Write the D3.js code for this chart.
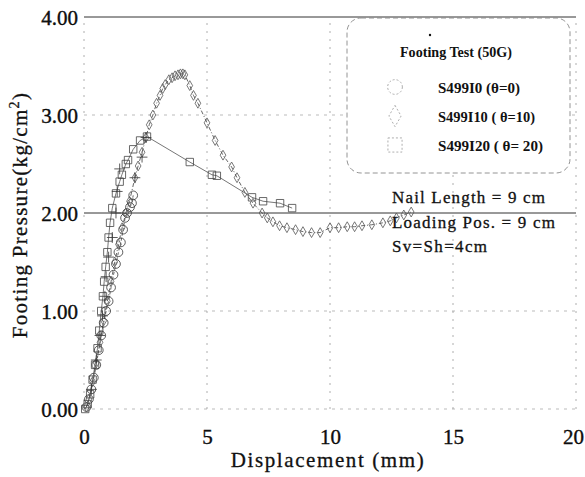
<!DOCTYPE html>
<html>
<head>
<meta charset="utf-8">
<script src="https://cdn.jsdelivr.net/npm/d3@7"></script>
<style>
  body { margin: 0; background: #fff; }
  svg { display: block; }
  text { font-family: "Liberation Serif", "Times New Roman", serif; fill: #111; }
</style>
</head>
<body>
<script>
// values (x = displacement mm, y = kg/cm2)
var xTicks = [0, 5, 10, 15, 20];
var yTicks = [0, 1, 2, 3, 4];

var circleX = [0.1, 0.2, 0.3, 0.4, 0.5, 0.6, 0.7, 0.8, 0.9, 1.0, 1.1, 1.2, 1.3, 1.4, 1.5, 1.59, 1.67, 1.75, 1.87, 1.95, 2.0];
var circleY = [0.02, 0.1, 0.2, 0.32, 0.45, 0.6, 0.75, 0.88, 1.0, 1.1, 1.24, 1.37, 1.48, 1.6, 1.7, 1.83, 1.95, 2.0, 2.06, 2.1, 2.18];

var diamondX = [0.1, 0.2, 0.35, 0.5, 0.65, 0.8, 0.95, 1.1, 1.25, 1.4, 1.55, 1.7, 1.85, 2.07, 2.2, 2.36, 2.52, 2.65, 2.8, 2.95, 3.09, 3.2, 3.3, 3.45, 3.58, 3.7, 3.82, 3.92, 4.02, 4.1, 4.3, 4.45, 4.63, 5.0, 5.33, 5.65, 6.0, 6.22, 6.54, 6.87, 7.24, 7.45, 7.68, 7.95, 8.25, 8.6, 8.9, 9.25, 9.6, 10.0, 10.35, 10.7, 11.0, 11.3, 11.7, 12.15, 12.45, 12.7, 13.0, 13.3];
var diamondY = [0.02, 0.1, 0.28, 0.47, 0.68, 0.9, 1.1, 1.3, 1.5, 1.68, 1.85, 2.0, 2.12, 2.36, 2.48, 2.62, 2.77, 2.9, 3.0, 3.12, 3.2, 3.27, 3.31, 3.36, 3.38, 3.4, 3.41, 3.42, 3.42, 3.41, 3.3, 3.2, 3.12, 2.92, 2.74, 2.59, 2.47, 2.36, 2.21, 2.1, 2.0, 1.95, 1.91, 1.87, 1.85, 1.83, 1.81, 1.8, 1.8, 1.85, 1.85, 1.86, 1.86, 1.87, 1.88, 1.9, 1.92, 1.95, 1.98, 2.01];

var squareX = [0.05, 0.15, 0.25, 0.35, 0.45, 0.55, 0.62, 0.7, 0.77, 0.82, 0.88, 0.95, 1.0, 1.06, 1.15, 1.3, 1.45, 1.54, 1.7, 1.79, 2.0, 2.28, 2.56, 4.3, 5.2, 5.4, 6.83, 7.28, 7.97, 8.46];
var squareY = [0.0, 0.05, 0.15, 0.3, 0.45, 0.62, 0.8, 1.0, 1.15, 1.3, 1.45, 1.6, 1.75, 1.9, 2.05, 2.2, 2.32, 2.39, 2.5, 2.54, 2.65, 2.74, 2.78, 2.52, 2.39, 2.38, 2.16, 2.12, 2.1, 2.05];

// small "+" marks scattered on the rising branches
var plusX = [0.3, 0.5, 0.65, 0.75, 0.85, 0.9, 1.0, 1.15, 1.3, 1.35, 1.45, 2.07, 2.36, 2.52];
var plusY = [0.2, 0.5, 0.75, 0.95, 1.15, 1.35, 1.55, 1.75, 2.0, 2.22, 2.45, 2.36, 2.57, 2.77];

var legendLabels = ["S499I0 (\u03B8=0)", "S499I10 ( \u03B8=10)", "S499I20 ( \u03B8= 20)"];
var notes = ["Nail Length = 9 cm", "Loading Pos. = 9 cm", "Sv=Sh=4cm"];

var width = 585, height = 477;

var xScale = d3.scaleLinear().domain([0, 20]).range([84, 576]);
var yScale = d3.scaleLinear().domain([0, 4]).range([409, 17]);

function pts(xs, ys) {
  return xs.map(function (d, i) { return [d, ys[i]]; });
}

var svg = d3.select("body").append("svg")
  .attr("width", width)
  .attr("height", height);

// grid
svg.append("g").selectAll("line")
  .data(yTicks)
  .enter().append("line")
  .attr("x1", xScale(0)).attr("x2", xScale(20))
  .attr("y1", function (d) { return yScale(d); })
  .attr("y2", function (d) { return yScale(d); })
  .attr("stroke", function (d) { return (d == 2 || d == 4) ? "#333" : "#aaa"; })
  .attr("stroke-width", function (d) { return (d == 2 || d == 4) ? 1 : 0.8; })
  .attr("stroke-dasharray", function (d) { return (d == 2 || d == 4) ? null : "3,5"; });

svg.append("g").selectAll("line")
  .data(xTicks)
  .enter().append("line")
  .attr("y1", yScale(0)).attr("y2", yScale(4))
  .attr("x1", function (d) { return xScale(d); })
  .attr("x2", function (d) { return xScale(d); })
  .attr("stroke", "#999")
  .attr("stroke-width", 0.8)
  .attr("stroke-dasharray", "2,6");

// axes (labels only)
var yAxis = d3.axisLeft(yScale)
  .tickValues(yTicks)
  .tickFormat(d3.format(".2f"))
  .tickSize(0)
  .tickPadding(6);

var xAxis = d3.axisBottom(xScale)
  .tickValues(xTicks)
  .tickFormat(d3.format("d"))
  .tickSize(0)
  .tickPadding(20);

var gy = svg.append("g").attr("transform", "translate(" + xScale(0) + ",0)").call(yAxis);
var gx = svg.append("g").attr("transform", "translate(0," + yScale(0) + ")").call(xAxis);
[gx, gy].forEach(function (g) {
  g.select(".domain").remove();
  g.selectAll("text")
    .style("font-family", "'Liberation Serif', serif")
    .style("font-size", "21px")
    .attr("fill", "#000")
    .attr("stroke", "#000")
    .attr("stroke-width", 0.35);
});
gy.selectAll("text").attr("dy", "0.36em");
// last label sits on the window edge; pull it in a little
gx.selectAll("text").filter(function (d) { return d == 20; }).attr("x", -3);

// axis titles
svg.append("text")
  .attr("x", 328).attr("y", 467)
  .attr("text-anchor", "middle")
  .style("font-size", "21px")
  .style("letter-spacing", "1.6px")
  .attr("stroke", "#111").attr("stroke-width", 0.3)
  .text("Displacement (mm)");

var yt = svg.append("text")
  .attr("transform", "translate(27,215) rotate(-90)")
  .attr("text-anchor", "middle")
  .style("font-size", "21px")
  .style("letter-spacing", "1.3px")
  .attr("stroke", "#111").attr("stroke-width", 0.3);
yt.append("tspan").text("Footing Pressure(kg/cm");
yt.append("tspan").attr("dy", -8).style("font-size", "14px").text("2");
yt.append("tspan").attr("dy", 8).text(")");

// lines
var line = d3.line()
  .x(function (d) { return xScale(d[0]); })
  .y(function (d) { return yScale(d[1]); });

svg.append("path").datum(pts(squareX, squareY))
  .attr("d", line).attr("fill", "none")
  .attr("stroke", "#666").attr("stroke-width", 0.9);

svg.append("path").datum(pts(circleX, circleY))
  .attr("d", line).attr("fill", "none")
  .attr("stroke", "#555").attr("stroke-width", 0.9)
  .attr("stroke-dasharray", "3,2");

svg.append("path").datum(pts(diamondX, diamondY))
  .attr("d", line).attr("fill", "none")
  .attr("stroke", "#555").attr("stroke-width", 0.9)
  .attr("stroke-dasharray", "4,2,1,2");

// markers
function drawMarks(data, type, size, color) {
  svg.append("g").selectAll("path")
    .data(data)
    .enter().append("path")
    .attr("transform", function (d) { return "translate(" + xScale(d[0]) + "," + yScale(d[1]) + ")"; })
    .attr("d", d3.symbol().type(type).size(size))
    .attr("fill", "none")
    .attr("stroke", color)
    .attr("stroke-width", 0.8);
}

drawMarks(pts(squareX, squareY), d3.symbolSquare, 55, "#444");
drawMarks(pts(circleX, circleY), d3.symbolCircle, 60, "#333");
drawMarks(pts(diamondX, diamondY), d3.symbolDiamond, 28, "#555");
drawMarks(pts(plusX, plusY), d3.symbolCross2 || d3.symbolPlus, 40, "#333");

// legend
var lg = svg.append("g");
lg.append("rect")
  .attr("x", 347).attr("y", 18)
  .attr("width", 223).attr("height", 155)
  .attr("rx", 14)
  .attr("fill", "#fff")
  .attr("stroke", "#888")
  .attr("stroke-width", 0.9)
  .attr("stroke-dasharray", "5,3");

lg.append("circle").attr("cx", 430).attr("cy", 35).attr("r", 1.2).attr("fill", "#111");

lg.append("text")
  .attr("x", 456).attr("y", 57)
  .attr("text-anchor", "middle")
  .style("font-size", "14px")
  .style("font-weight", "bold")
  .attr("textLength", 112)
  .attr("lengthAdjust", "spacingAndGlyphs")
  .text("Footing Test (50G)");

var legendTypes = [d3.symbolCircle, d3.symbolDiamond, d3.symbolSquare];
var legendSizes = [170, 130, 200];
var legendW = [82, 97, 105];

lg.selectAll(".item")
  .data(legendLabels)
  .enter().append("g")
  .attr("class", "item")
  .attr("transform", function (d, i) { return "translate(0," + (87 + i * 29) + ")"; })
  .each(function (d, i) {
    var g = d3.select(this);
    g.append("path")
      .attr("transform", "translate(395,0)")
      .attr("d", d3.symbol().type(legendTypes[i]).size(legendSizes[i]))
      .attr("fill", "none")
      .attr("stroke", "#999")
      .attr("stroke-width", 0.8)
      .attr("stroke-dasharray", "2,2");
    g.append("text")
      .attr("x", 438).attr("y", 6)
      .style("font-size", "14px")
      .style("font-weight", "bold")
      .attr("textLength", legendW[i])
      .attr("lengthAdjust", "spacingAndGlyphs")
      .text(d);
  });

// notes
var noteW = [153, 163, 95];
svg.selectAll(".note")
  .data(notes)
  .enter().append("text")
  .attr("class", "note")
  .attr("x", 392)
  .attr("y", function (d, i) { return 203 + i * 24.5; })
  .style("font-size", "17px")
  .attr("stroke", "#111").attr("stroke-width", 0.3)
  .attr("textLength", function (d, i) { return noteW[i]; })
  .attr("lengthAdjust", "spacing")
  .text(function (d) { return d; });
</script>
</body>
</html>
